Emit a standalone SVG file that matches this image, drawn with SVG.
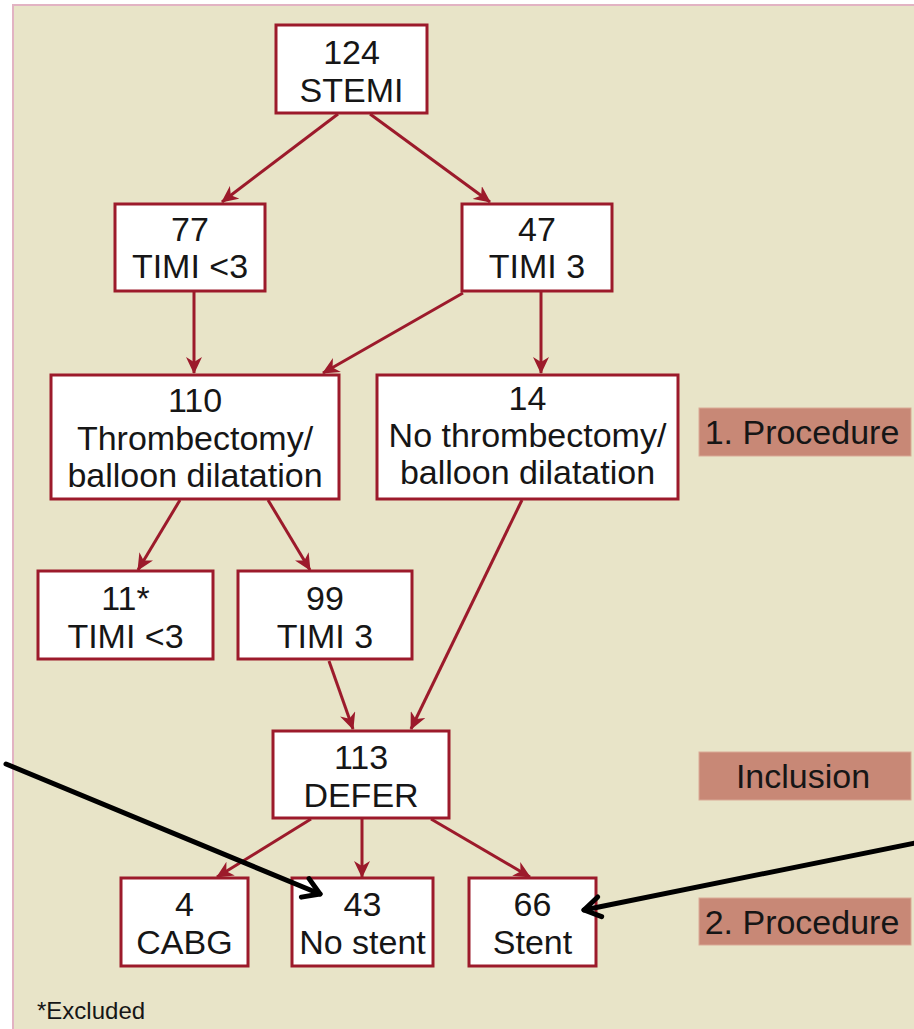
<svg xmlns="http://www.w3.org/2000/svg" width="914" height="1029" viewBox="0 0 914 1029">
  <style>
    .panel { fill: #e8e4c8; stroke: #e2b3c3; stroke-width: 2; }
    .node rect { fill: #ffffff; stroke: #9c1a2b; stroke-width: 3; }
    .node text, .tag text { font-family: "Liberation Sans", Arial, sans-serif; font-size: 34px; fill: #161616; text-anchor: middle; }
    .tag rect { fill: #c88876; stroke: #d9a996; stroke-width: 1; }
    .flow line { stroke: #9c1a2b; stroke-width: 3; marker-end: url(#redHead); }
    .pointer line { stroke: #000000; stroke-width: 5; stroke-linecap: round; marker-end: url(#blackHead); }
    .note { font-family: "Liberation Sans", Arial, sans-serif; font-size: 24px; fill: #161616; }
  </style>
  <defs>
    <marker id="redHead" markerUnits="userSpaceOnUse" markerWidth="18" markerHeight="16" refX="16" refY="8" orient="auto">
      <path d="M0,0 L17,8 L0,16 L5,8 Z" fill="#9c1a2b"/>
    </marker>
    <marker id="blackHead" markerUnits="userSpaceOnUse" markerWidth="28" markerHeight="28" refX="21" refY="14" orient="auto" overflow="visible">
      <path d="M5,4 L21,14 L5,24" fill="none" stroke="#000000" stroke-width="5" stroke-linecap="round" stroke-linejoin="round"/>
    </marker>
  </defs>

  <!-- background panel -->
  <rect class="panel" x="13" y="5" width="920" height="1040"/>

  <!-- flow connectors -->
  <g id="connectors" class="flow">
    <line x1="338" y1="114" x2="222" y2="202"/>
    <line x1="370" y1="114" x2="490" y2="202"/>
    <line x1="194" y1="292" x2="194" y2="373"/>
    <line x1="463" y1="293" x2="323" y2="373"/>
    <line x1="541" y1="292" x2="541" y2="373"/>
    <line x1="180" y1="500" x2="138" y2="570"/>
    <line x1="268" y1="500" x2="310" y2="570"/>
    <line x1="329" y1="661" x2="353" y2="729"/>
    <line x1="522" y1="500" x2="411" y2="729"/>
    <line x1="311" y1="819" x2="217" y2="877"/>
    <line x1="362" y1="819" x2="362" y2="877"/>
    <line x1="431" y1="819" x2="530" y2="877"/>
  </g>

  <!-- nodes -->
  <g id="n-stemi" class="node">
    <rect x="276" y="25" width="151" height="88"/>
    <text x="351.5" y="64">124</text>
    <text x="351.5" y="102">STEMI</text>
  </g>
  <g id="n-timi-lt3" class="node">
    <rect x="115" y="204" width="150" height="87"/>
    <text x="190" y="241">77</text>
    <text x="190" y="278">TIMI &lt;3</text>
  </g>
  <g id="n-timi3" class="node">
    <rect x="462" y="204" width="150" height="87"/>
    <text x="537" y="241">47</text>
    <text x="537" y="278">TIMI 3</text>
  </g>
  <g id="n-thrombectomy" class="node">
    <rect x="51" y="375" width="288" height="124"/>
    <text x="195" y="412">110</text>
    <text x="195" y="450">Thrombectomy/</text>
    <text x="195" y="487">balloon dilatation</text>
  </g>
  <g id="n-no-thrombectomy" class="node">
    <rect x="377" y="375" width="301" height="124"/>
    <text x="527.5" y="410">14</text>
    <text x="527.5" y="447">No thrombectomy/</text>
    <text x="527.5" y="484">balloon dilatation</text>
  </g>
  <g id="n-excluded" class="node">
    <rect x="38" y="571" width="175" height="88"/>
    <text x="125.5" y="610">11*</text>
    <text x="125.5" y="648">TIMI &lt;3</text>
  </g>
  <g id="n-reflow" class="node">
    <rect x="238" y="571" width="174" height="88"/>
    <text x="325" y="610">99</text>
    <text x="325" y="648">TIMI 3</text>
  </g>
  <g id="n-defer" class="node">
    <rect x="273" y="731" width="176" height="87"/>
    <text x="361" y="769">113</text>
    <text x="361" y="807">DEFER</text>
  </g>
  <g id="n-cabg" class="node">
    <rect x="121" y="878" width="127" height="88"/>
    <text x="184.5" y="916">4</text>
    <text x="184.5" y="954">CABG</text>
  </g>
  <g id="n-no-stent" class="node">
    <rect x="292" y="878" width="141" height="88"/>
    <text x="362.5" y="916">43</text>
    <text x="362.5" y="954">No stent</text>
  </g>
  <g id="n-stent" class="node">
    <rect x="469" y="878" width="127" height="88"/>
    <text x="532.5" y="916">66</text>
    <text x="532.5" y="954">Stent</text>
  </g>

  <!-- stage tags -->
  <g id="tag-procedure-1" class="tag">
    <rect x="699" y="408" width="212" height="48"/>
    <text x="802" y="444">1. Procedure</text>
  </g>
  <g id="tag-inclusion" class="tag">
    <rect x="699" y="752" width="212" height="48"/>
    <text x="803" y="788">Inclusion</text>
  </g>
  <g id="tag-procedure-2" class="tag">
    <rect x="699" y="898" width="212" height="47"/>
    <text x="802" y="934">2. Procedure</text>
  </g>

  <text class="note" x="37" y="1019">*Excluded</text>

  <!-- black pointer arrows, drawn over the boxes -->
  <g id="pointers" class="pointer">
    <line x1="6" y1="764" x2="320" y2="894"/>
    <line x1="920" y1="842" x2="584" y2="910"/>
  </g>
</svg>
